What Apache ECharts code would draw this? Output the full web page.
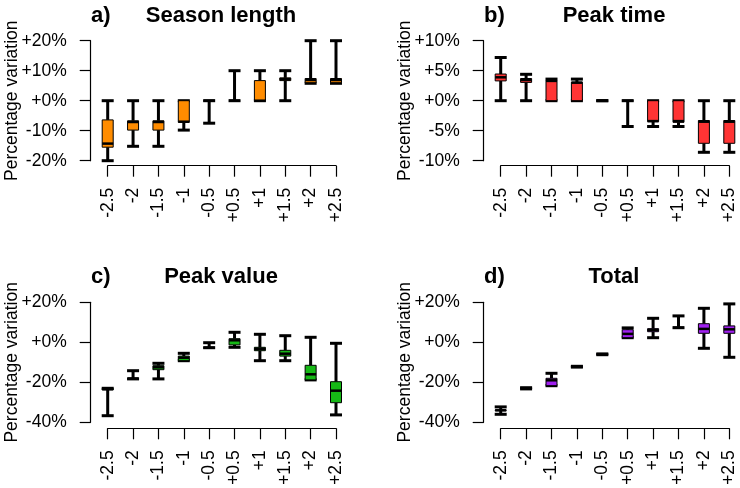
<!DOCTYPE html>
<html>
<head>
<meta charset="utf-8">
<script src="https://cdn.jsdelivr.net/npm/echarts@6/dist/echarts.min.js"></script>
<style>html,body{margin:0;padding:0;background:#fff}#c{width:740px;height:488px}</style>
</head>
<body>
<div id="c"></div>
<script>
// Categories (temperature change scenarios)
const categories = ['-2.5', '-2', '-1.5', '-1', '-0.5', '+0.5', '+1', '+1.5', '+2', '+2.5'];

// Each row: [min, Q1, median, Q3, max] in percent
const seasonLength = [
  [-20, -15.5, -14.3, -6.4, 0],
  [-15.2, -9.8, -7.1, -6.7, 0],
  [-15.2, -9.8, -7.1, -6.7, 0],
  [-9.8, -7.2, -7.0, 0, 0],
  [-7.5, 0, 0, 0, 0],
  [0, 0, 0, 0, 10],
  [0, 0, 0, 6.7, 10],
  [0, 6.7, 7.2, 7.6, 10],
  [5.8, 6.0, 6.9, 7.4, 20],
  [5.8, 6.0, 6.9, 7.4, 20]
];
const peakTime = [
  [0, 3.3, 3.9, 4.45, 7.2],
  [0, 3.05, 3.45, 3.7, 4.4],
  [0, 0, 3.3, 3.4, 3.6],
  [0, 0, 3.0, 3.1, 3.6],
  [0, 0, 0, 0, 0],
  [-4.3, 0, 0, 0, 0],
  [-4.3, -3.5, -3.4, 0, 0],
  [-4.3, -3.6, -3.4, 0, 0],
  [-8.6, -7.1, -3.5, -3.3, 0],
  [-8.6, -7.1, -3.5, -3.3, 0]
];
const peakValue = [
  [-36.7, -23.8, -23.4, -23, -23],
  [-18.3, -18.1, -18.1, -18.1, -14.2],
  [-18.3, -13.7, -12.5, -11.7, -10.5],
  [-9.2, -9.2, -7.7, -6.9, -5.5],
  [-2.7, -2.7, -2.7, -2.7, -0.2],
  [-2.5, -1.3, 1.0, 1.8, 5],
  [-9.2, -4.2, -3.3, -2.5, 4],
  [-9.2, -6.9, -5.7, -4, 3.3],
  [-18.8, -18.8, -16, -11.5, 2.5],
  [-36.3, -30.2, -24.2, -19.7, -0.5]
];
const total = [
  [-36, -34.2, -34, -33.8, -32.3],
  [-23.3, -23.1, -23, -22.9, -22.7],
  [-21.7, -21.7, -19, -18, -15.5],
  [-12.4, -12.3, -12.2, -12.1, -12],
  [-6.2, -6.1, -6, -5.9, -5.8],
  [2.3, 2.3, 4.2, 6.3, 7.2],
  [2.3, 5.3, 6.2, 6.8, 12],
  [7.3, 7.3, 7.3, 7.3, 13.2],
  [-3, 4.5, 6.7, 9.3, 17],
  [-7.5, 4.5, 6.5, 8.2, 19.2]
];

// Y axis ranges per panel: [min, max, interval]
const yRangeA = [-20, 20, 10];
const yRangeB = [-10, 10, 5];
const yRangeC = [-40, 20, 20];
const yRangeD = [-40, 20, 20];

const panels = [
  { label: 'a)', title: 'Season length', data: seasonLength, color: '#FF8C00', range: yRangeA,
    grid: { left: 107.7, top: 40.7, width: 228.3, height: 120 }, xOff: 5, titleY: 16, cx: 221, lx: 91 },
  { label: 'b)', title: 'Peak time', data: peakTime, color: '#FF3434', range: yRangeB,
    grid: { left: 500.7, top: 40.7, width: 228.6, height: 120 }, xOff: 5, titleY: 16, cx: 614, lx: 484 },
  { label: 'c)', title: 'Peak value', data: peakValue, color: '#16B816', range: yRangeC,
    grid: { left: 107.7, top: 302.3, width: 228.3, height: 120 }, xOff: 6, titleY: 277, cx: 221, lx: 91 },
  { label: 'd)', title: 'Total', data: total, color: '#A020F0', range: yRangeD,
    grid: { left: 500.7, top: 302.3, width: 228.6, height: 120 }, xOff: 6, titleY: 277, cx: 614, lx: 484 }
];

const FONT = 'Liberation Sans, Arial, Helvetica, sans-serif';
const fmt = v => (v >= 0 ? '+' + v + '%' : v + '%');

function makeRender(color) {
  return function (params, api) {
    const x = api.value(0);
    const pMin = api.coord([x, api.value(1)]);
    const pQ1 = api.coord([x, api.value(2)]);
    const pMed = api.coord([x, api.value(3)]);
    const pQ3 = api.coord([x, api.value(4)]);
    const pMax = api.coord([x, api.value(5)]);
    const cx = pMed[0];
    const bw = 11, cw = 12;
    const blk = { stroke: '#000', lineWidth: 3 };
    return {
      type: 'group',
      children: [
        { type: 'line', shape: { x1: cx, y1: pQ3[1], x2: cx, y2: pMax[1] }, style: blk },
        { type: 'line', shape: { x1: cx, y1: pQ1[1], x2: cx, y2: pMin[1] }, style: blk },
        { type: 'line', shape: { x1: cx - cw / 2, y1: pMax[1], x2: cx + cw / 2, y2: pMax[1] }, style: blk },
        { type: 'line', shape: { x1: cx - cw / 2, y1: pMin[1], x2: cx + cw / 2, y2: pMin[1] }, style: blk },
        { type: 'rect', shape: { x: cx - bw / 2, y: pQ3[1], width: bw, height: pQ1[1] - pQ3[1] },
          style: { fill: color, stroke: '#000', lineWidth: 1 } },
        { type: 'line', shape: { x1: cx - bw / 2, y1: pMed[1], x2: cx + bw / 2, y2: pMed[1] }, style: { stroke: '#000', lineWidth: 2.5 } }
      ]
    };
  };
}

const option = {
  animation: false,
  backgroundColor: '#fff',
  textStyle: { fontFamily: FONT },
  title: [],
  grid: [],
  xAxis: [],
  yAxis: [],
  series: []
};

panels.forEach((p, i) => {
  option.title.push({
    text: p.title, left: p.cx, top: p.titleY, textAlign: 'center', textVerticalAlign: 'middle', padding: 0,
    textStyle: { fontFamily: FONT, fontSize: 22, fontWeight: 'bold', color: '#000' }
  });
  option.title.push({
    text: p.label, left: p.lx, top: p.titleY, textAlign: 'left', textVerticalAlign: 'middle', padding: 0,
    textStyle: { fontFamily: FONT, fontSize: 22, fontWeight: 'bold', color: '#000' }
  });
  option.grid.push(Object.assign({ outerBoundsMode: 'none', containLabel: false }, p.grid));
  option.xAxis.push({
    type: 'category', gridIndex: i, data: categories, boundaryGap: false, offset: p.xOff, position: 'bottom',
    axisLine: { show: true, onZero: false, lineStyle: { color: '#000', width: 1.2 } },
    axisTick: { show: true, length: 11, interval: 0, lineStyle: { color: '#000', width: 1.2 } },
    axisLabel: { interval: 0, rotate: 90, margin: 22, fontSize: 17.5, color: '#000', fontFamily: FONT },
    splitLine: { show: false }
  });
  option.yAxis.push({
    type: 'value', gridIndex: i, min: p.range[0], max: p.range[1], interval: p.range[2], offset: 17,
    name: 'Percentage variation', nameLocation: 'middle', nameGap: 70, nameRotate: 90, nameMoveOverlap: false,
    nameTextStyle: { fontSize: 17.5, color: '#000', fontFamily: FONT },
    axisLine: { show: true, onZero: false, lineStyle: { color: '#000', width: 1.2 } },
    axisTick: { show: true, length: 11, lineStyle: { color: '#000', width: 1.2 } },
    axisLabel: { margin: 24, fontSize: 17.5, color: '#000', fontFamily: FONT, formatter: fmt },
    splitLine: { show: false }
  });
  option.series.push({
    type: 'custom', name: p.title, xAxisIndex: i, yAxisIndex: i,
    renderItem: makeRender(p.color),
    encode: { x: 0, y: [1, 2, 3, 4, 5] },
    data: p.data.map((d, k) => [k].concat(d)),
    clip: false
  });
});

const chart = echarts.init(document.getElementById('c'), null, { renderer: 'canvas' });
chart.setOption(option);
</script>
</body>
</html>
